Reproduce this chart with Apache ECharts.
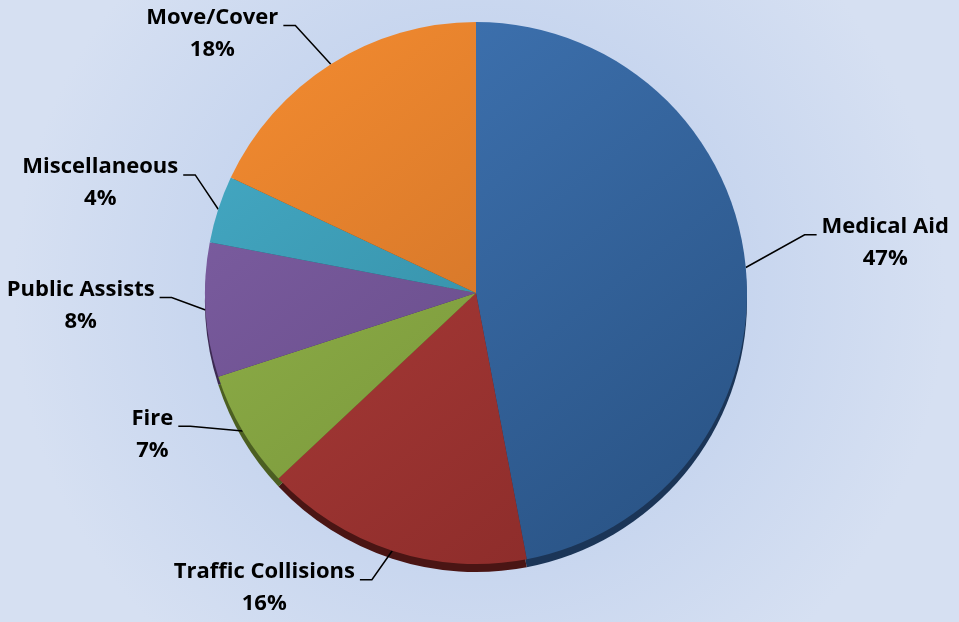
<!DOCTYPE html>
<html>
<head>
<meta charset="utf-8">
<script src="https://cdn.jsdelivr.net/npm/echarts@6/dist/echarts.min.js"></script>
<style>
html,body{margin:0;padding:0;}
#chart{width:959px;height:622px;}
</style>
</head>
<body>
<div id="chart"></div>
<script>
// ---- data ----
const categories = ['Medical Aid', 'Traffic Collisions', 'Fire', 'Public Assists', 'Miscellaneous', 'Move/Cover'];
const values = [47, 16, 7, 8, 4, 18];

// ---- styles ----
const lightColors = ['#3f74b3', '#b03e3b', '#93b44b', '#7e5fa3', '#44a9c4', '#f0892f'];
const darkColors  = ['#2a5486', '#8a2b29', '#728f36', '#5f4580', '#2e8197', '#c26a26'];
const rimColors   = ['#1b3557', '#4a1514', '#4c5f22', '#3c2a52', '#1d5462', '#7a4215'];
// label elbow offsets (style tweak applied to library-computed label lines)
const labelShift = [[19, -29], [-8, -9], [-18, -25], [6, -15], [15, -22], [-14, -5]];

const cx = 476, cy = 293, R = 271;
const labelGap = 5;

function faceColor(i) {
  return {
    type: 'linear', global: true,
    x: cx - R * 0.7, y: cy - R * 0.9, x2: cx + R * 0.7, y2: cy + R * 0.9,
    colorStops: [
      { offset: 0, color: lightColors[i] },
      { offset: 1, color: darkColors[i] }
    ]
  };
}

const faceData = categories.map((c, i) => ({
  name: c, value: values[i],
  itemStyle: { color: faceColor(i) }
}));
const rimData = categories.map((c, i) => ({
  name: c, value: values[i],
  itemStyle: { color: rimColors[i] }
}));

const chart = echarts.init(document.getElementById('chart'));
chart.setOption({
  backgroundColor: {
    type: 'radial', x: 0.5, y: 0.47, r: 0.75,
    colorStops: [
      { offset: 0, color: '#b4c8ea' },
      { offset: 1, color: '#d6e0f2' }
    ]
  },
  animation: false,
  series: [
    {
      type: 'pie', silent: true, z: 1,
      center: [cx, cy + 8], radius: R,
      startAngle: 90, clockwise: true,
      label: { show: false }, labelLine: { show: false },
      data: rimData
    },
    {
      type: 'pie', z: 2,
      center: [cx, cy], radius: R,
      startAngle: 90, clockwise: true,
      avoidLabelOverlap: false,
      itemStyle: { borderWidth: 0 },
      label: {
        show: true,
        formatter: '{n|{b}}\n{n|{d}%}',
        padding: [16, 0, 0, 0],
        distanceToLabelLine: labelGap,
        rich: {
          n: {
            align: 'center',
            fontFamily: '"Open Sans", sans-serif',
            fontWeight: 'bold',
            fontSize: 22,
            lineHeight: 32,
            color: '#000'
          }
        }
      },
      labelLine: {
        show: true, length: 40, length2: 12,
        lineStyle: { color: '#000', width: 1.5 }
      },
      labelLayout: function (params) {
        const pts = params.labelLinePoints;
        if (!pts) return {};
        const s = labelShift[params.dataIndex] || [0, 0];
        const p0 = [pts[0][0], pts[0][1]];
        const p1 = [pts[1][0] + s[0], pts[1][1] + s[1]];
        const p2 = [pts[2][0] + s[0], pts[2][1] + s[1]];
        const left = p2[0] < p1[0];
        return {
          x: p2[0] + (left ? -labelGap : labelGap),
          y: p2[1],
          align: left ? 'right' : 'left',
          verticalAlign: 'middle',
          labelLinePoints: [p0, p1, p2]
        };
      },
      data: faceData
    }
  ]
});
</script>
</body>
</html>
